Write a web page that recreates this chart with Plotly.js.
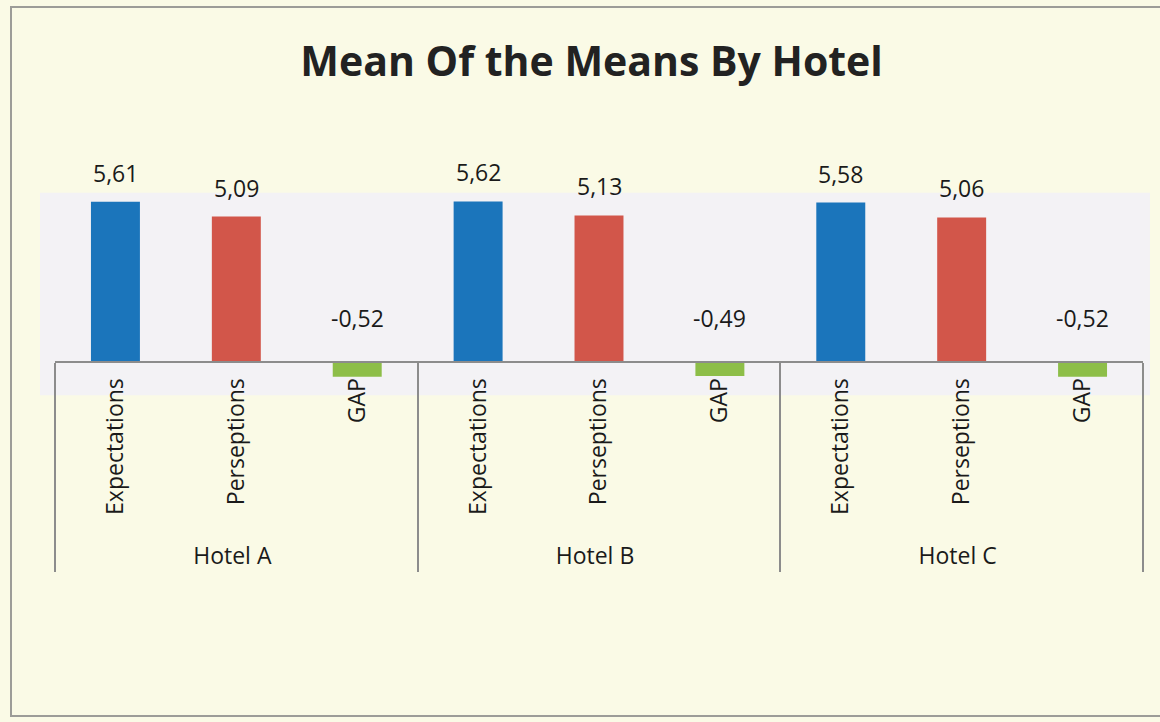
<!DOCTYPE html>
<html><head><meta charset="utf-8">
<script src="https://cdn.plot.ly/plotly-3.0.1.min.js"></script>
<style>
html,body{margin:0;padding:0;background:#fafae6;overflow:hidden}
#chart{width:1160px;height:722px;position:absolute;left:0;top:0}
#frame{position:absolute;left:10px;top:6px;width:1200px;height:711px;border:2px solid #9c9c98;pointer-events:none;box-sizing:border-box}
</style></head><body>
<div id="chart"></div><div id="frame"></div>
<script>
const hotels = ['Hotel A', 'Hotel B', 'Hotel C'];
const seriesNames = ['Expectations', 'Perseptions', 'GAP'];
const expectations = [5.61, 5.62, 5.58];
const perseptions = [5.09, 5.13, 5.06];
const gap = [-0.52, -0.49, -0.52];
const seriesColors = ['#1b75bb', '#d2564a', '#8dbe48'];
const chartTitle = 'Mean Of the Means By Hotel';

const seriesValues = [expectations, perseptions, gap];
const parentRow = [], childRow = [], yVals = [], barColors = [];
hotels.forEach((h, hi) => {
  seriesNames.forEach((s, si) => {
    parentRow.push(h);
    childRow.push(s);
    yVals.push(seriesValues[si][hi]);
    barColors.push(seriesColors[si]);
  });
});

const fontFam = '"Open Sans", "DejaVu Sans", sans-serif';
const yMin = -0.7, yMax = 7;

const trace = {
  type: 'bar',
  x: [parentRow, childRow],
  y: yVals,
  marker: {color: barColors, line: {width: 0}},
  cliponaxis: false,
  hoverinfo: 'skip'
};

const annotations = yVals.map((v, i) => ({
  x: i, y: Math.max(v, 0), xref: 'x', yref: 'y',
  text: v.toFixed(2).replace('.', ','),
  showarrow: false, yanchor: 'bottom', xanchor: 'center',
  yshift: v > 0 ? 11 : 26,
  font: {family: fontFam, size: 23, color: '#1a1a1a'}
}));

const layout = {
  width: 1160, height: 722,
  paper_bgcolor: 'rgba(0,0,0,0)', plot_bgcolor: 'rgba(0,0,0,0)',
  margin: {l: 55, r: 17, t: 162, b: 340},
  title: {text: chartTitle, x: 0.51, xref: 'container', xanchor: 'center',
          y: 1 - 62 / 722, yref: 'container', yanchor: 'middle',
          font: {family: fontFam, size: 41, color: '#222222', weight: 'bold'}},
  showlegend: false,
  bargap: 0.595,
  xaxis: {type: 'multicategory', anchor: 'free', position: (0 - yMin) / (yMax - yMin),
          showline: true, linecolor: '#8c8c8c', linewidth: 2,
          tickangle: -90, ticks: '', showgrid: false,
          showdividers: true, dividercolor: '#8c8c8c', dividerwidth: 2,
          ticklabelstandoff: 6, tickprefix: '\u00a0\u00a0',
          tickfont: {family: fontFam, size: 23, color: '#1a1a1a'}},
  yaxis: {range: [yMin, yMax], visible: false, showgrid: false, zeroline: false},
  shapes: [{type: 'rect', xref: 'paper', yref: 'paper', layer: 'below',
            x0: -0.0138, x1: 1.0064, y0: -0.06, y1: 0.86,
            fillcolor: '#f3f2f5', line: {width: 0}}],
  annotations: annotations
};

Plotly.newPlot('chart', [trace], layout, {displayModeBar: false, staticPlot: true});
</script></body></html>
